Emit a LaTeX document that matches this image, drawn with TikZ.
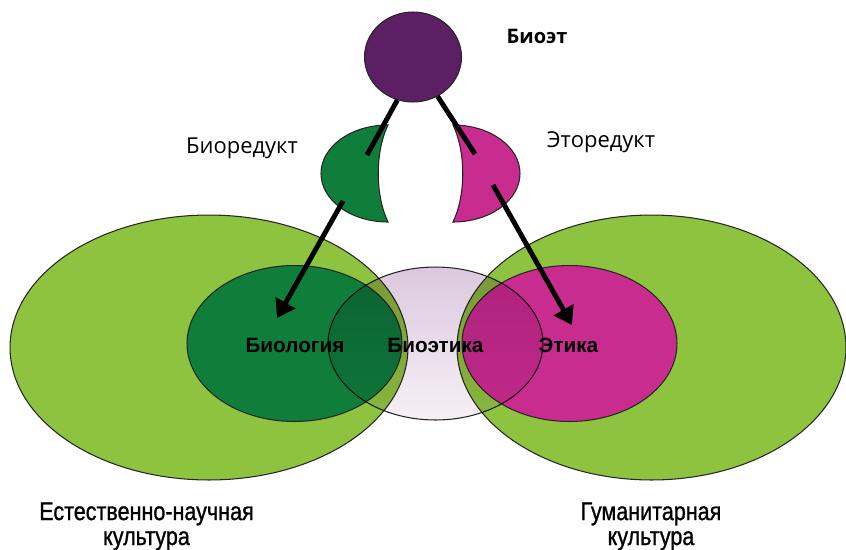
\documentclass[tikz,border=0pt]{standalone}
\usepackage{fontspec}
\usepackage{xcolor}
\usepackage{tikz}
\usetikzlibrary{arrows.meta,shapes.geometric}
\newfontfamily\topfont{Open Sans}
\newfontfamily\midfont{Liberation Sans}
\newfontfamily\botfont[FakeStretch=0.84,FakeBold=1]{Liberation Sans}
\definecolor{purplex}{HTML}{5C1F63}
\definecolor{darkgreen}{HTML}{0F7E3B}
\definecolor{magentax}{HTML}{C92C8F}
\definecolor{lightgreen}{HTML}{8DC33F}
\definecolor{liltop}{HTML}{DCC8DE}
\definecolor{lilbot}{HTML}{F6F0F6}
\tikzset{
  blob/.style={ellipse,draw=black!85,line width=0.6pt,inner sep=0pt},
  link/.style={line width=2.8pt,black},
  ar/.style={-{Triangle[length=3.5mm,width=4.4mm]},line width=2.8pt,black},
  toplbl/.style={font=\topfont\fontsize{12.5}{15}\selectfont,anchor=base,inner sep=0pt},
  midlbl/.style={font=\midfont\bfseries\fontsize{11.8}{14}\selectfont,anchor=base,inner sep=0pt},
  botlbl/.style={font=\botfont\fontsize{14.6}{14.2}\selectfont,align=center,anchor=base,inner sep=0pt}
}
\begin{document}
\begin{tikzpicture}[x=0.02cm,y=-0.02cm]
\useasboundingbox (0,0) rectangle (846,549);
% cultures and sciences
\node[blob,fill=lightgreen,minimum width=7.96cm,minimum height=5.3cm] (natcult) at (209,347.5) {};
\node[blob,fill=lightgreen,minimum width=7.78cm,minimum height=5.3cm] (humcult) at (651.5,347.5) {};
\node[blob,fill=darkgreen,minimum width=4.3cm,minimum height=3.12cm] (biol) at (294.5,343.5) {};
\node[blob,fill=magentax,minimum width=4.3cm,minimum height=3.12cm] (eth) at (569.5,343.5) {};
\node[blob,top color=liltop,bottom color=lilbot,blend mode=multiply,minimum width=4.3cm,minimum height=3.06cm] (bioeth) at (435.5,343.5) {};
\node[midlbl] (biollbl) at (295,352) {Биология};
\node[midlbl] (bioethlbl) at (435.5,352) {Биоэтика};
\node[midlbl] (ethlbl) at (568.5,352) {Этика};
% bioet and its reducts
\node[blob,fill=purplex,minimum width=1.94cm,minimum height=1.8cm] (bioet) at (413,57) {};
\draw[black!85,line width=0.6pt,fill=darkgreen] (388,125) .. controls (351,125) and (321,146.7) .. (321,173.5)
  .. controls (321,200.3) and (351,222) .. (388,222) .. controls (375,195) and (375,152) .. cycle;
\draw[black!85,line width=0.6pt,fill=magentax] (453,125) .. controls (490,125) and (520,146.7) .. (520,173.5)
  .. controls (520,200.3) and (490,222) .. (453,222) .. controls (466,195) and (466,152) .. cycle;
\coordinate (bredin) at (367,155);
\coordinate (bredout) at (343,201);
\coordinate (eredin) at (475,154);
\coordinate (eredout) at (493,185);
\coordinate (biotip) at (277,318);
\coordinate (ethtip) at (572,325);
\draw[link] (bioet.250) -- (bredin);
\draw[link] (bioet.302) -- (eredin);
\draw[ar] (bredout) -- (biotip);
\draw[ar] (eredout) -- (ethtip);
% labels
\node[toplbl,font=\topfont\bfseries\fontsize{11.4}{14}\selectfont] (bioetlbl) at (537,43) {Биоэт};
\node[toplbl] (bredlbl) at (242,153) {Биоредукт};
\node[toplbl] (eredlbl) at (601,147) {Эторедукт};
\node[botlbl] (natlbl) at (146.5,545) {Естественно-научная\\культура};
\node[botlbl] (humlbl) at (651,545) {Гуманитарная\\культура};
\end{tikzpicture}
\end{document}
